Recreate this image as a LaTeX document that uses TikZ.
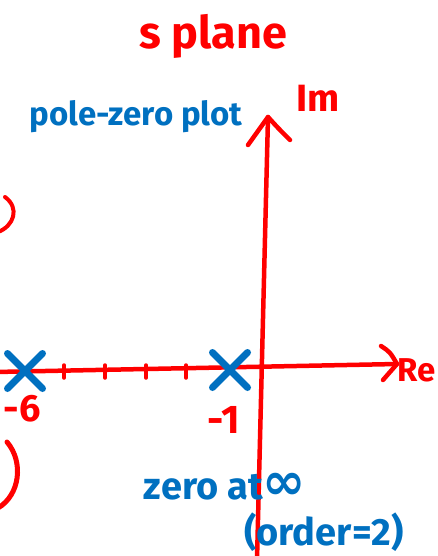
\documentclass[tikz,border=0pt]{standalone}
\usepackage{fontspec}
\setmainfont{Fira Sans}
\newfontfamily\symfont{DejaVu Sans}
\usetikzlibrary{shapes.misc}
\definecolor{penred}{RGB}{255,0,0}
\definecolor{penblue}{RGB}{0,112,192}
\begin{document}
\begin{tikzpicture}[x=1pt,y=-1pt,
  redpen/.style={draw=penred, line width=4.5pt, line cap=round, line join=round},
  redtxt/.style={text=penred, inner sep=0pt},
  bluetxt/.style={text=penblue, inner sep=0pt},
  polemark/.style={cross out, draw=penblue, line width=7pt, line cap=round, minimum size=28pt, inner sep=0pt}]
\useasboundingbox (0,0) rectangle (438,556);
\clip (0,0) rectangle (438,556);
% coordinates of the axes
\coordinate (xs) at (-5,372);
\coordinate (xe) at (397,364);
\coordinate (ys) at (257,560);
\coordinate (ye) at (268,117);
\coordinate (xal) at (381,346);
\coordinate (xar) at (383,380);
\coordinate (yal) at (248,145);
\coordinate (yar) at (290,140);
% axes
\draw[redpen] (xs) -- (xe);
\draw[redpen] (ys) -- (ye);
\draw[redpen] (xal) .. controls (390,352) .. (xe) -- (xar);
\draw[redpen] (yal) -- (ye) .. controls (278,128) .. (yar);
% ticks
\foreach \x/\n in {64/a,105/b,146/c,186/d}{
  \coordinate (t\n1) at (\x,365);
  \coordinate (t\n2) at (\x,378);
  \draw[redpen, line width=3.5pt] (t\n1) -- (t\n2);
}
% left arcs
\draw[redpen, line width=4pt] (5,197) .. controls (20,208) and (14,226) .. (-2,232);
\draw[redpen, line width=5pt] (7,442) .. controls (24,462) and (20,495) .. (-2,508);
% poles
\node[polemark] (p6) at (25,371) {};
\node[polemark] (p1) at (230,370) {};
% labels
\node[redtxt, font=\bfseries\fontsize{45}{45}\selectfont] (title) at (213,36) {s plane};
\node[redtxt, font=\bfseries\fontsize{38}{38}\selectfont] (im) at (318,98) {Im};
\node[redtxt, font=\bfseries\fontsize{33}{33}\selectfont] (re) at (417,370) {Re};
\node[redtxt, font=\bfseries\fontsize{38}{38}\selectfont] (m6) at (22,409) {-6};
\node[redtxt, font=\bfseries\fontsize{40}{40}\selectfont] (m1) at (224,420) {-1};
\node[bluetxt, font=\bfseries\fontsize{33}{33}\selectfont] (pz) at (136,117) {pole-zero plot};
\node[bluetxt, font=\bfseries\fontsize{38}{38}\selectfont] (zinf) at (225,487) {zero at{\symfont\fontsize{52}{52}\selectfont ∞}};
\node[bluetxt, font=\bfseries\fontsize{38}{38}\selectfont] (ord) at (324,532) {(order=2)};
\end{tikzpicture}
\end{document}
